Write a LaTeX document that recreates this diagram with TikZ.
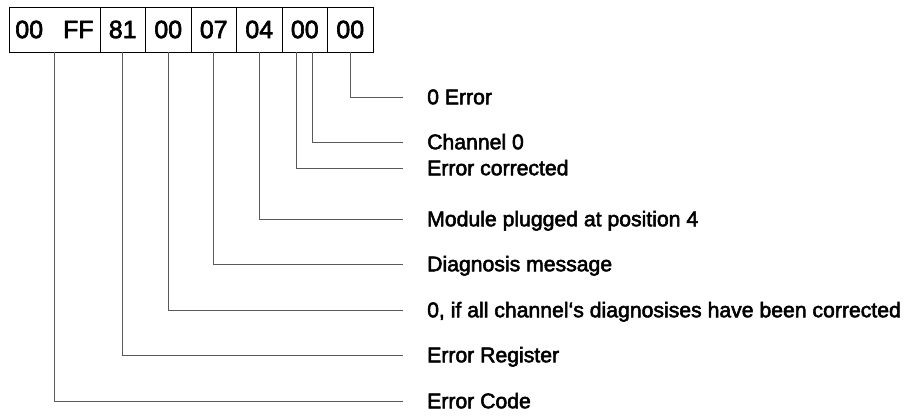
\documentclass[tikz,border=0pt]{standalone}
\usepackage{fontspec}
\setmainfont{Liberation Sans}
\newfontfamily\heavyfont{Liberation Sans}[FakeBold=2.5]
\usepackage{tikz}
\usetikzlibrary{positioning, calc}

\tikzset{
  cell/.style={draw, line width=0.8pt, minimum width=45.5pt, minimum height=45pt,
               inner sep=0pt, font=\heavyfont\fontsize{25}{28}\selectfont},
  lbl/.style={anchor=west, inner sep=0pt, text height=14.5pt, text depth=0pt,
              font=\heavyfont\fontsize{21.2}{24}\selectfont},
  lead/.style={black!65, line width=0.9pt}
}

\begin{document}
\begin{tikzpicture}[x=1pt, y=-1pt]
  \useasboundingbox (0,0) rectangle (910,415);

  % Trame
  \node[cell, minimum width=91pt] (c0) at (54.5, 29.5) {00\hskip 20pt FF};
  \foreach \t [count=\i] in {81, 00, 07, 04, 00, 00} {
    \node[cell] (c\i) at ({100 + 45.5*(\i - 0.5)}, 29.5) {\t};
  }

  % Textes
  \node[lbl] (l6)  at (427,  97) {0 Error};
  \node[lbl] (l5b) at (427, 142) {Channel 0};
  \node[lbl] (l5a) at (427, 168) {Error corrected};
  \node[lbl] (l4)  at (427, 219) {Module plugged at position 4};
  \node[lbl] (l3)  at (427, 264) {Diagnosis message};
  \node[lbl] (l2)  at (427, 310) {0, if all channel‘s diagnosises have been corrected};
  \node[lbl] (l1)  at (427, 355) {Error Register};
  \node[lbl] (l0)  at (427, 401) {Error Code};

  % Renvois
  \foreach \c/\l in {c0/l0, c1/l1, c2/l2, c3/l3, c4/l4, c6/l6} {
    \draw[lead] (\c.south) |- ([xshift=-24pt]\l.west);
  }
  \draw[lead] ([xshift=-8pt]c5.south) |- ([xshift=-24pt]l5a.west);
  \draw[lead] ([xshift=8pt]c5.south) |- ([xshift=-24pt]l5b.west);
\end{tikzpicture}
\end{document}
